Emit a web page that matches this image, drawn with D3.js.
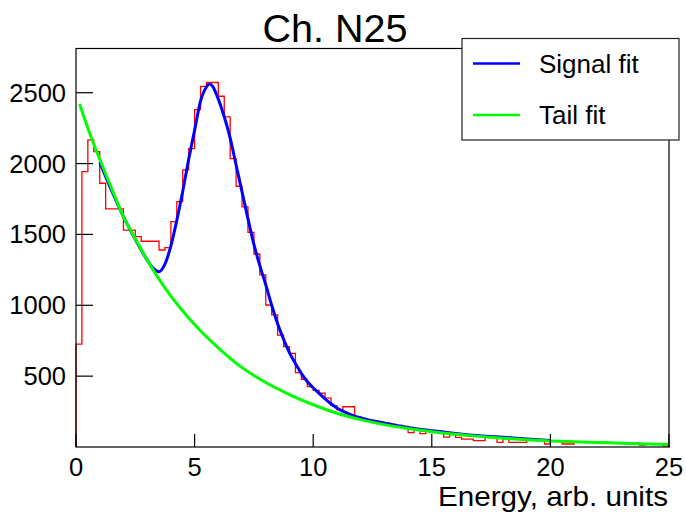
<!DOCTYPE html>
<html>
<head>
<meta charset="utf-8">
<script src="https://cdn.jsdelivr.net/npm/d3@7"></script>
<style>
    html, body { margin: 0; padding: 0; background: #fff; }
    svg { display: block; font-family: "Liberation Sans", Arial, sans-serif; }
</style>
</head>
<body>
<svg id="chart" width="686" height="512"></svg>
<script>
// ===== Data =====
const chartTitle = 'Ch. N25';
const xAxisTitle = 'Energy, arb. units';

// Histogram: 100 bins of 0.25 between 0 and 25
const binStart = 0;
const binWidth = 0.25;
const binCounts = [
     726, 1943, 2167, 2084, 1861, 1680, 1680, 1680, 1531, 1531,
    1484, 1452, 1452, 1452, 1390, 1407, 1590, 1731, 1955, 2105,
    2380, 2545, 2572, 2572, 2475, 2330, 2035, 1840, 1695, 1515,
    1362, 1214, 1002,  932,  790,  708,  661,  525,  478,  426,
     400,  380,  345,  292,  262,  284,  284,  214,  200,  192,
     183,  176,  168,  160,  152,  145,  102,  128,   95,  116,
     108,  100,   70,   88,   68,   56,   56,   45,   45,   72,
      68,   33,   60,   33,   33,   33,   52,   50,   47,   21,
      43,   41,   21,   21,   37,   36,   35,   34,   33,   32,
      31,   30,   29,   28,   27,   14,   23,   22,   21,    8
];

// Signal fit (blue)
const signalX = [1.0, 1.5, 2.0, 2.5, 3.0, 3.25, 3.5, 3.75, 4.0, 4.25, 4.5, 4.75, 5.0, 5.25, 5.5, 5.62, 5.75,
                 6.0, 6.25, 6.5, 6.75, 7.0, 7.25, 7.5, 7.75, 8.0, 8.25, 8.5, 8.75, 9.0, 9.25, 9.5, 9.75,
                 10.0, 10.25, 10.5, 10.75, 11.0, 11.5, 12.0, 12.5, 13.0, 13.5, 14.0, 14.5, 15.0, 15.5,
                 16.0, 17.0, 18.0, 19.0, 20.0];
const signalY = [2010, 1810, 1625, 1465, 1320, 1262, 1237, 1290, 1420, 1600, 1805, 2030, 2235, 2440, 2540, 2562, 2548,
                 2455, 2330, 2180, 1990, 1800, 1610, 1430, 1280, 1145, 1000, 870, 760, 665, 590, 520, 462,
                 418, 378, 340, 305, 275, 234, 205, 185, 168, 152, 138, 125, 115, 106,
                 96, 80, 68, 56, 46];

// Tail fit (green)
const tailX = [0.15, 0.5, 1.0, 1.5, 2.0, 2.5, 3.0, 3.5, 4.0, 4.5, 5.0, 6.0, 7.0, 8.0, 9.0, 10.0,
               11.0, 12.0, 13.0, 14.0, 15.0, 16.0, 17.0, 18.0, 19.0, 20.0, 21.0, 22.0, 23.0, 24.0, 25.0];
const tailY = [2420, 2250, 2030, 1825, 1625, 1470, 1320, 1185, 1065, 960, 865, 700, 560, 455, 370, 298,
               238, 193, 158, 130, 108, 90, 75, 62, 51, 43, 37, 32, 27, 22, 18];

const xTicks = [0, 5, 10, 15, 20, 25];
const yTicks = [500, 1000, 1500, 2000, 2500];
const legendLabels = ['Signal fit', 'Tail fit'];
const legendColors = ['#0000ff', '#00ff00'];

// ===== Layout =====
const frame = { left: 76, right: 669, top: 48.5, bottom: 447 };
const x = d3.scaleLinear().domain([0, 25]).range([frame.left, frame.right]);
const y = d3.scaleLinear().domain([0, 2812]).range([frame.bottom, frame.top]);

const svg = d3.select('#chart');

// ===== Histogram (step outline) =====
function drawHistogram() {
    const pts = [[binStart, 0]];
    binCounts.forEach((c, i) => pts.push([binStart + i * binWidth, c]));
    const xEnd = binStart + binCounts.length * binWidth;
    pts.push([xEnd, binCounts[binCounts.length - 1]]);
    pts.push([xEnd, 0]);

    const stepLine = d3.line()
        .x(d => x(d[0]))
        .y(d => y(d[1]))
        .curve(d3.curveStepAfter);

    svg.append('path')
        .attr('d', stepLine(pts))
        .attr('fill', 'none')
        .attr('stroke', '#ff0000')
        .attr('stroke-width', 1.3);
}

// ===== Fit curves =====
function drawCurve(xs, ys, color) {
    const line = d3.line()
        .x(d => x(d[0]))
        .y(d => y(d[1]))
        .curve(d3.curveMonotoneX);
    svg.append('path')
        .attr('d', line(xs.map((v, i) => [v, ys[i]])))
        .attr('fill', 'none')
        .attr('stroke', color)
        .attr('stroke-width', 3)
        .attr('stroke-linejoin', 'round');
}

// ===== Frame, ticks, labels =====
function drawAxes() {
    const g = svg.append('g');

    g.append('rect')
        .attr('x', frame.left).attr('y', frame.top)
        .attr('width', frame.right - frame.left)
        .attr('height', frame.bottom - frame.top)
        .attr('fill', 'none')
        .attr('stroke', '#000')
        .attr('stroke-width', 1.2);

    // x ticks point up into the frame
    xTicks.forEach(t => {
        g.append('line')
            .attr('x1', x(t)).attr('x2', x(t))
            .attr('y1', frame.bottom).attr('y2', frame.bottom - 13)
            .attr('stroke', '#000').attr('stroke-width', 1.2);
        g.append('text')
            .attr('x', x(t)).attr('y', 475.5)
            .attr('text-anchor', 'middle')
            .attr('font-size', 25.5)
            .text(t);
    });

    // y ticks point right into the frame
    yTicks.forEach(t => {
        g.append('line')
            .attr('x1', frame.left).attr('x2', frame.left + 17)
            .attr('y1', y(t)).attr('y2', y(t))
            .attr('stroke', '#000').attr('stroke-width', 1.2);
        g.append('text')
            .attr('x', 66).attr('y', y(t) + 9)
            .attr('text-anchor', 'end')
            .attr('font-size', 25.5)
            .text(t);
    });

    // axis title: slightly wide face in the reference, so stretch to its width
    g.append('text')
        .attr('x', 668).attr('y', 506)
        .attr('text-anchor', 'end')
        .attr('font-size', 27.5)
        .attr('textLength', 230)
        .attr('lengthAdjust', 'spacingAndGlyphs')
        .text(xAxisTitle);

    svg.append('text')
        .attr('x', 335).attr('y', 42)
        .attr('text-anchor', 'middle')
        .attr('font-size', 39.5)
        .text(chartTitle);
}

// ===== Legend =====
function drawLegend() {
    const box = { x: 462, y: 38.5, w: 217, h: 101.5 };
    const lg = svg.append('g');
    lg.append('rect')
        .attr('x', box.x).attr('y', box.y)
        .attr('width', box.w).attr('height', box.h)
        .attr('fill', '#fff')
        .attr('stroke', '#222')
        .attr('stroke-width', 1.2);

    const rowY = [63.5, 115];
    legendLabels.forEach((label, i) => {
        lg.append('line')
            .attr('x1', 473).attr('x2', 520)
            .attr('y1', rowY[i]).attr('y2', rowY[i])
            .attr('stroke', legendColors[i])
            .attr('stroke-width', 2.5);
        lg.append('text')
            .attr('x', 539).attr('y', rowY[i] + 9)
            .attr('font-size', 26)
            .text(label);
    });
}

drawHistogram();
drawCurve(signalX, signalY, '#0000ff');
drawCurve(tailX, tailY, '#00ff00');
drawAxes();
drawLegend();
</script>
</body>
</html>
